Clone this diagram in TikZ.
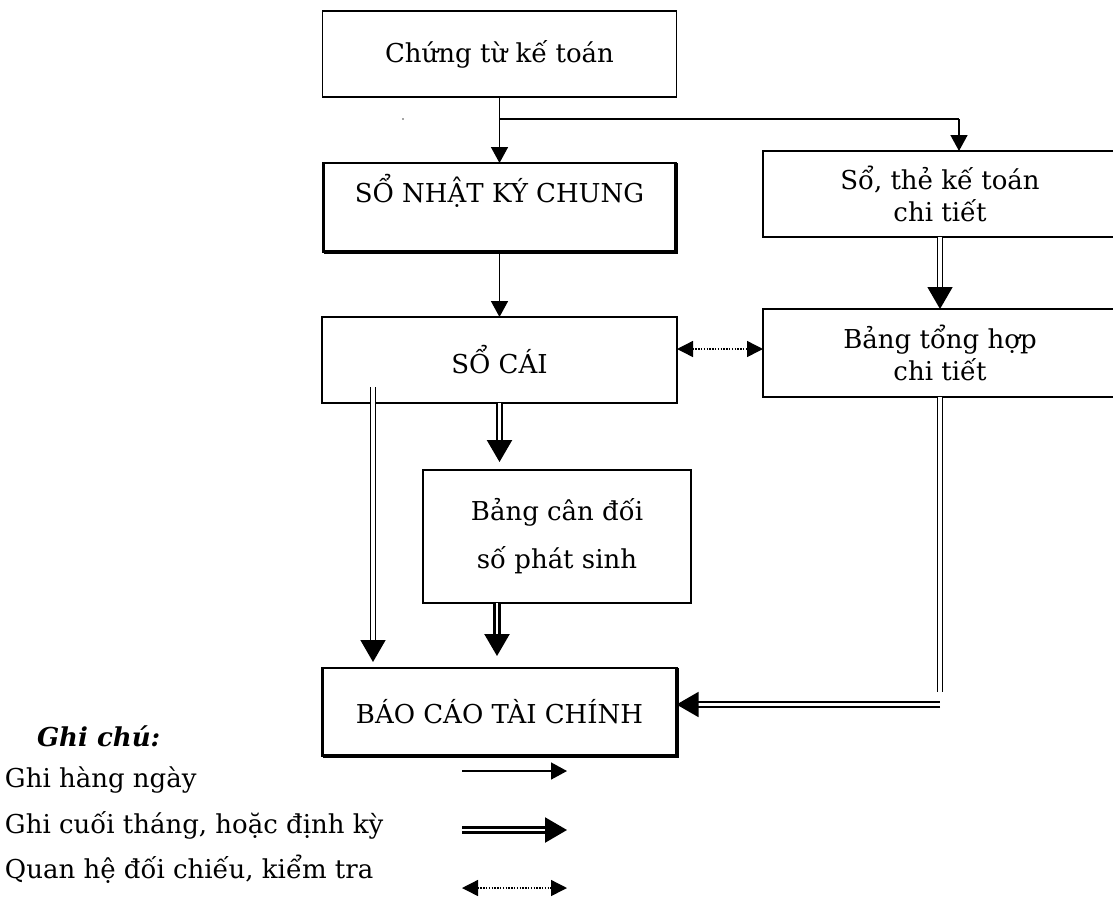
\documentclass[tikz,border=0pt]{standalone}
\usepackage{fontspec}
\setmainfont{DejaVu Serif}
\usetikzlibrary{arrows.meta}
\begin{document}
\begin{tikzpicture}[x=1pt,y=-1pt,
  every node/.style={font=\fontsize{26pt}{32pt}\selectfont},
  box/.style={draw, line width=1.6pt, inner sep=0pt, outer sep=0pt, align=center},
  heavybox/.style={box, line width=2.6pt},
  txt/.style={inner sep=0pt, outer sep=0pt, align=center},
  arr/.style={line width=1.6pt, -{Triangle[length=16pt,width=17pt]}},
  dbl/.style={double, double distance=3.5pt, line width=1.5pt, -{Triangle[length=22pt,width=25pt]}},
  dblline/.style={double, double distance=3.5pt, line width=1.5pt},
  dblthick/.style={double, double distance=2.6pt, line width=2.3pt, -{Triangle[length=22pt,width=25pt]}},
  dotarr/.style={line width=1.4pt, dash pattern=on 1.4pt off 1.4pt,
    {Triangle[length=16pt,width=16pt]}-{Triangle[length=16pt,width=16pt]}},
]
\useasboundingbox (0,0) rectangle (1113,903);
\fill[white] (0,0) rectangle (1113,903);

% boxes of the flow chart
\node[box, minimum width=354pt, minimum height=86pt] (ctkt) at (499.5,54) {Chứng từ kế toán};
\node[heavybox, minimum width=352pt, minimum height=89pt] (nkc) at (499.5,207.5) {};
\node[txt] (nkctext) at (499.5,191) {SỔ NHẬT KÝ CHUNG};
\draw[line width=4pt] (nkc.north east) -- (nkc.south east) -- (nkc.south west);
\node[box, minimum width=354pt, minimum height=86pt] (sothe) at (940,194) {Sổ, thẻ kế toán\\chi tiết};
\node[box, minimum width=355pt, minimum height=86pt] (socai) at (499.5,360) {SỔ CÁI};
\node[box, minimum width=354pt, minimum height=88pt] (bangth) at (940,353) {Bảng tổng hợp\\chi tiết};
\node[box, minimum width=268pt, minimum height=133pt,
      font=\fontsize{26pt}{48pt}\selectfont] (bcd) at (557,536.5) {Bảng cân đối\\số phát sinh};
\node[heavybox, minimum width=354pt, minimum height=88pt] (bctc) at (499.5,712) {BÁO CÁO TÀI CHÍNH};
\draw[line width=4pt] (bctc.north east) -- (bctc.south east) -- (bctc.south west);

% small mark near the branch
\fill[black!70] (403,119) circle (0.9pt);

% daily entries
\coordinate (br) at (499.5,119);
\draw[arr] (ctkt.south) -- (nkc.north);
\draw[line width=1.6pt] (br) -- (959,119);
\draw[arr] (959,119) -- ([xshift=19pt]sothe.north);
\draw[arr] (nkc.south) -- (socai.north);

% end of period entries
\draw[dbl] (sothe.south) -- (bangth.north);
\draw[dbl, shorten >=6pt] ([xshift=-126.5pt,yshift=16pt]socai.south) -- ([xshift=-126.5pt]socai.south |- bctc.north);
\draw[dblthick, shorten >=8pt] (socai.south) -- (socai.south |- bcd.north);
\draw[dblthick, shorten >=12pt] ([xshift=-60pt]bcd.south) -- ([xshift=-60pt]bcd.south |- bctc.north);
\coordinate (rdown) at (940,692);
\coordinate (rturn) at (940,704.5);
\draw[dblline] (bangth.south) -- (rdown);
\draw[dbl] (rturn) -- (rturn -| bctc.east);

% cross-check
\draw[dotarr] ([yshift=11pt]socai.east) -- ([yshift=11pt]socai.east -| bangth.west);

% legend
\node[txt, anchor=west, font=\fontsize{26pt}{32pt}\selectfont\bfseries\itshape] (legtitle) at (37,736) {Ghi chú:};
\node[txt, anchor=west] (leg1) at (5,780) {Ghi hàng ngày};
\node[txt, anchor=west] (leg2) at (5,825) {Ghi cuối tháng, hoặc định kỳ};
\node[txt, anchor=west] (leg3) at (5,869) {Quan hệ đối chiếu, kiểm tra};
\coordinate (l1a) at (462,771); \coordinate (l1b) at (567,771);
\coordinate (l2a) at (462,830); \coordinate (l2b) at (567,830);
\coordinate (l3a) at (462,888); \coordinate (l3b) at (567,888);
\draw[arr] (l1a) -- (l1b);
\draw[dblthick] (l2a) -- (l2b);
\draw[dotarr] (l3a) -- (l3b);
\end{tikzpicture}
\end{document}
